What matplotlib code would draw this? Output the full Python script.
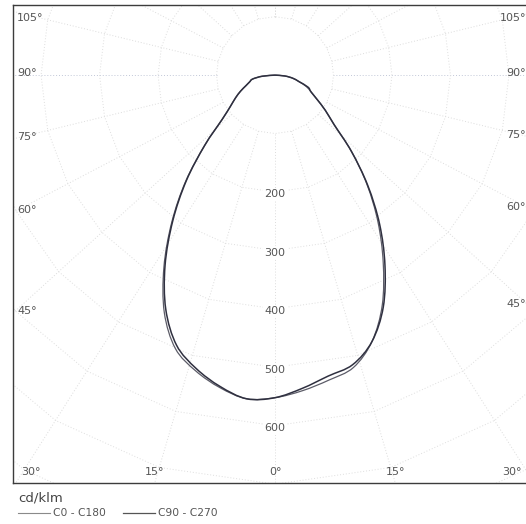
import numpy as np
import matplotlib.pyplot as plt
from matplotlib.lines import Line2D
from matplotlib.path import Path
from matplotlib.patches import PathPatch

# Luminous intensity in cd/klm, every 5 degrees from nadir (0) to horizontal (90)
angles = np.arange(0, 91, 5)
c0 = [551, 542, 530, 518, 485, 434, 370, 307, 245, 185, 132, 105, 83, 68, 57, 42, 31, 17, 0]
c180 = [552, 556, 543, 524, 498, 448, 380, 308, 238, 170, 118, 93, 78, 65, 53, 45, 39, 22, 0]
c90 = [551, 538, 523, 513, 485, 438, 376, 312, 247, 185, 132, 105, 83, 68, 60, 42, 31, 17, 0]
c270 = [552, 556, 541, 520, 492, 442, 376, 305, 236, 170, 118, 93, 78, 65, 53, 45, 39, 22, 0]

rings = [100, 200, 300, 400, 500, 600, 700, 800]
ring_labels = [200, 300, 400, 500, 600]
grid_angles = np.arange(-180, 181, 15)
side_angles = [45, 60, 75, 90, 105]
bottom_angles = [-30, -15, 0, 15, 30]

XMIN, XMAX, YMIN, YMAX = -448, 436, -698, 120
SPREAD = 1.1
TXT = "#555555"
DOTS = (0, (1, 2))


def direction(a):
    a = np.radians(a)
    dx, dy = SPREAD * np.sin(a), -np.cos(a)
    n = np.hypot(dx, dy)
    return dx / n, dy / n


def curve_xy(right, left):
    th = np.radians(np.concatenate([-angles[::-1], angles[1:]]))
    r = np.concatenate([np.array(left)[::-1], np.array(right)[1:]])
    return r * np.sin(th), -r * np.cos(th)


def smooth_path(x, y):
    # cubic segments through every point (Catmull-Rom tangents)
    p = np.column_stack([x, y])
    n = len(p)
    verts = [p[0]]
    codes = [Path.MOVETO]
    for i in range(n - 1):
        p0 = p[max(i - 1, 0)]
        p3 = p[min(i + 2, n - 1)]
        c1 = p[i] + (p[i + 1] - p0) / 6
        c2 = p[i + 1] - (p3 - p[i]) / 6
        verts += [c1, c2, p[i + 1]]
        codes += [Path.CURVE4] * 3
    return Path(verts, codes)


fig = plt.figure(figsize=(5.26, 5.24), dpi=100)
ax = fig.add_axes([13 / 526, 41 / 524, 517 / 526, 478 / 524])
ax.set_xlim(XMIN, XMAX)
ax.set_ylim(YMIN, YMAX)
ax.set_xticks([])
ax.set_yticks([])
for s in ax.spines.values():
    s.set_color("#3c3c3c")
    s.set_linewidth(1.0)

# polar grid: radial lines and rings
for a in grid_angles:
    dx, dy = direction(a)
    col = "#c2c8d8" if abs(a) == 90 else "#dcdcdc"
    ax.plot([100 * dx, 1400 * dx], [100 * dy, 1400 * dy], ls=DOTS,
            color=col, lw=0.7, zorder=1)
for r in rings:
    pts = np.array([direction(a) for a in grid_angles]) * r
    ax.plot(pts[:, 0], pts[:, 1], ls=DOTS, color="#dedede", lw=0.7, zorder=1)

for r in ring_labels:
    ax.text(0, -r - 4, str(r), ha="center", va="center", fontsize=8, color=TXT,
            bbox=dict(boxstyle="square,pad=0.15", fc="white", ec="none"), zorder=2)

# angle labels where the radial lines meet the frame
for a in side_angles:
    dx, dy = direction(a)
    yl = min(dy * (-XMIN) / dx + 4, YMAX - 23)
    ax.text(XMIN + 7, yl, f"{a}°", ha="left", va="center", fontsize=8, color=TXT)
    yr = min(dy * XMAX / dx + 4, YMAX - 23)
    ax.text(XMAX - 7, yr, f"{a}°", ha="right", va="center", fontsize=8, color=TXT)
for a in bottom_angles:
    dx, dy = direction(a)
    xb = dx * YMIN / dy
    xb = min(max(xb, XMIN + 31), XMAX - 31)
    ax.text(xb, YMIN + 19, f"{abs(a)}°", ha="center", va="center", fontsize=8, color=TXT)

# intensity curves
x, y = curve_xy(c0, c180)
ax.add_patch(PathPatch(smooth_path(x, y), fill=False, ec="#5c5c68", lw=0.9, zorder=3))
x, y = curve_xy(c90, c270)
ax.add_patch(PathPatch(smooth_path(x, y), fill=False, ec="#2f3040", lw=1.1, zorder=4))

# unit and legend below the frame
fig.text(18 / 526, 1 - 498 / 524, "cd/klm", fontsize=9.5, color="#444444", va="center")
fig.add_artist(Line2D([18 / 526, 50 / 526], [1 - 513 / 524] * 2, color="#8a8a8a", lw=0.8))
fig.text(53 / 526, 1 - 513 / 524, "C0 - C180", fontsize=7.7, color=TXT, va="center")
fig.add_artist(Line2D([123 / 526, 155 / 526], [1 - 513 / 524] * 2, color="#555555", lw=0.9))
fig.text(158 / 526, 1 - 513 / 524, "C90 - C270", fontsize=7.7, color=TXT, va="center")

fig.savefig("out.png", dpi=100, facecolor="white")
